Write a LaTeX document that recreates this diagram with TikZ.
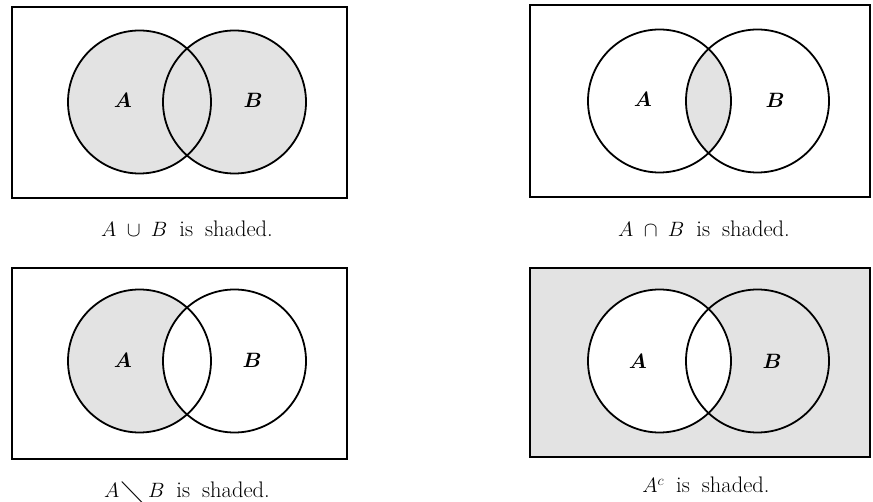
\documentclass[tikz,border=0pt]{standalone}
\usepackage{amssymb}
\usepackage{bm}
\newcommand{\gapw}{\hspace{12pt}}
\begin{document}
\begin{tikzpicture}[x=1pt,y=-1pt,
  frame/.style={draw=black,line width=1.4pt},
  ring/.style={draw=black,line width=1.8pt},
  shade/.style={fill=black!11},
  setlabel/.style={font=\fontsize{21}{24}\selectfont,inner sep=0pt},
  caption/.style={font=\fontsize{22.5}{26}\selectfont,inner sep=0pt,anchor=base}]
\useasboundingbox (0,0) rectangle (873,502);
% ---------- Union (top-left)
\fill[shade] (139.5,102) circle (71.5);
\fill[shade] (234.5,102) circle (71.5);
\draw[frame] (12,7) rectangle (347,198);
\draw[ring] (139.5,102) circle (71.5);
\draw[ring] (234.5,102) circle (71.5);
\node[setlabel] (a1) at (123,100) {$\bm{A}$};
\node[setlabel] (b1) at (253,100) {$\bm{B}$};
\node[caption] (c1) at (187,237) {$A\;\cup\;B$\gapw is\gapw shaded.};
% ---------- Intersection (top-right)
\begin{scope}
  \clip (659.5,101) circle (71.5);
  \fill[shade] (757.5,101) circle (71.5);
\end{scope}
\draw[frame] (530,5) rectangle (870,197);
\draw[ring] (659.5,101) circle (71.5);
\draw[ring] (757.5,101) circle (71.5);
\node[setlabel] (a2) at (643,99) {$\bm{A}$};
\node[setlabel] (b2) at (775,100) {$\bm{B}$};
\node[caption] (c2) at (704,237) {$A\;\cap\;B$\gapw is\gapw shaded.};
% ---------- Difference (bottom-left)
\fill[shade] (139.5,361) circle (71.5);
\begin{scope}
  \clip (139.5,361) circle (71.5);
  \fill[white] (234.5,361) circle (71.5);
\end{scope}
\draw[frame] (12,268) rectangle (347,459);
\draw[ring] (139.5,361) circle (71.5);
\draw[ring] (234.5,361) circle (71.5);
\node[setlabel] (a3) at (123,360) {$\bm{A}$};
\node[setlabel] (b3) at (252,360) {$\bm{B}$};
\node[caption] (c3) at (187,497) {$A\mkern2mu\raisebox{-0.35ex}{\scalebox{1.2}{$\diagdown$}}\mkern2mu B$\gapw is\gapw shaded.};
% ---------- Complement (bottom-right)
\fill[shade] (530,268) rectangle (870,457);
\fill[white] (659.5,361) circle (71.5);
\draw[frame] (530,268) rectangle (870,457);
\draw[ring] (659.5,361) circle (71.5);
\draw[ring] (757.5,361) circle (71.5);
\node[setlabel] (a4) at (638,361) {$\bm{A}$};
\node[setlabel] (b4) at (772,361) {$\bm{B}$};
\node[caption] (c4) at (706,493) {$A^c$\gapw is\gapw shaded.};
\end{tikzpicture}
\end{document}
